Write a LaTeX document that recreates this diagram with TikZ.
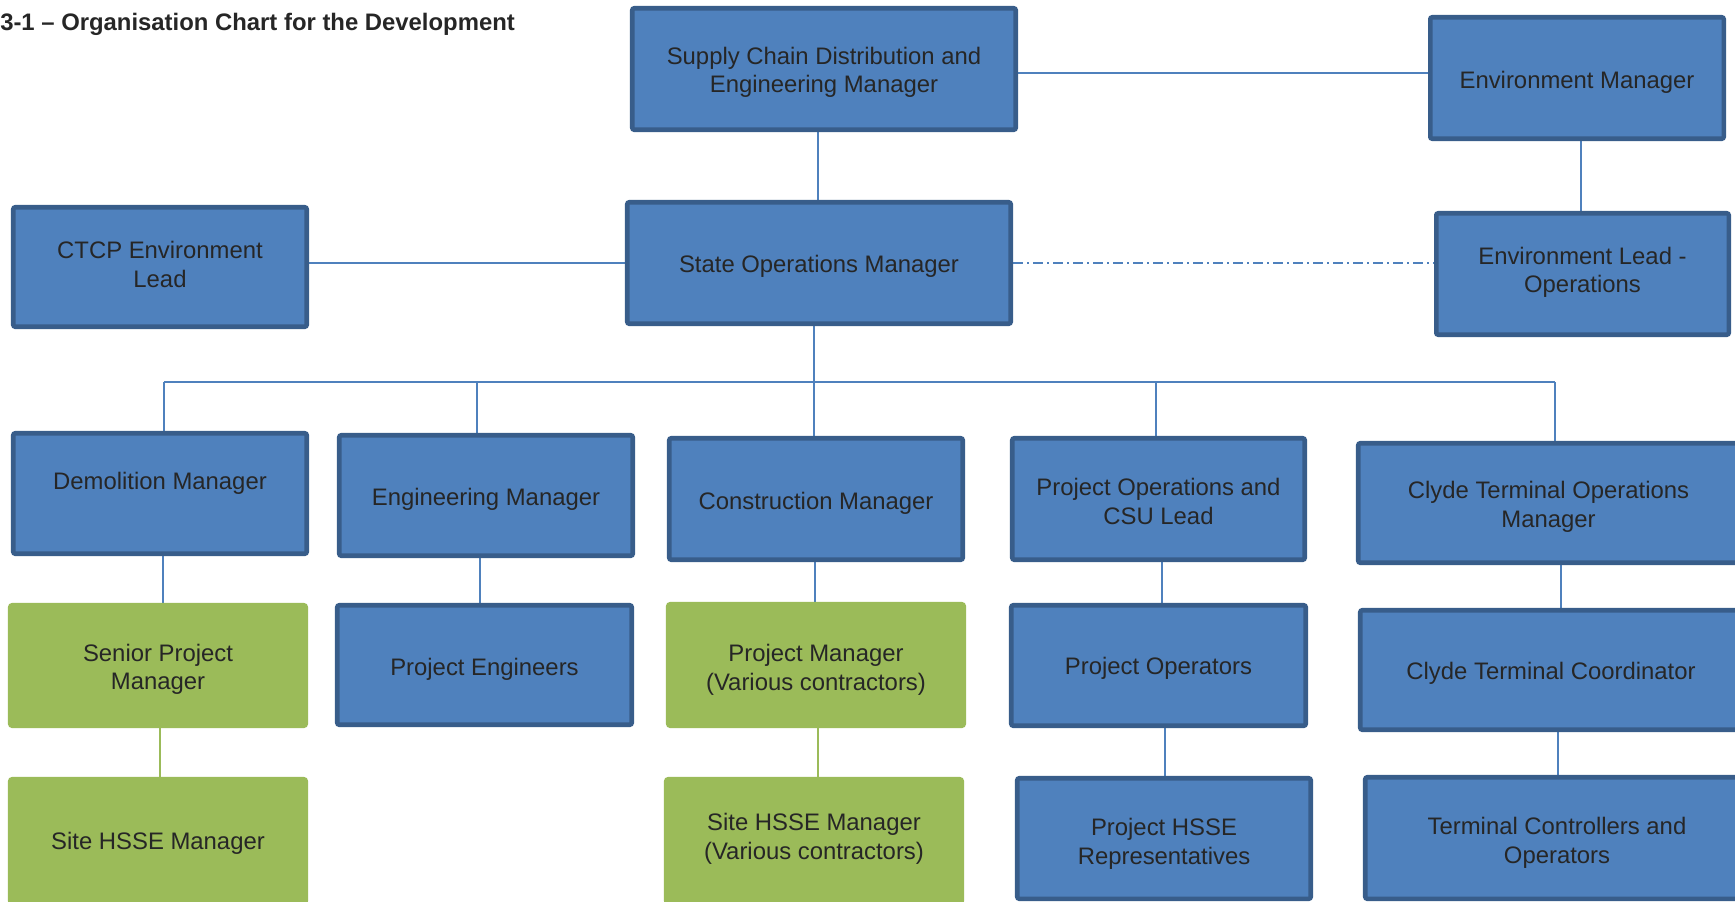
\documentclass[tikz,border=0pt]{standalone}
\usepackage{fontspec}
\setmainfont{Liberation Sans}
\usetikzlibrary{backgrounds}
\definecolor{boxblue}{HTML}{4F81BD}
\definecolor{boxedge}{HTML}{385D8A}
\definecolor{boxgreen}{HTML}{9BBB59}
\definecolor{inktext}{HTML}{262626}
% line strut with the ascent and descent of the face
\newcommand{\lnstrut}{\rule[-0.212em]{0pt}{1.117em}}
% strut for the first line of a two-line label, with optional extra room above
\newcommand{\firstln}[1][0pt]{\rule[-0.212em]{0pt}{\dimexpr1.117em+#1\relax}}
\begin{document}
\begin{tikzpicture}[x=0.75pt,y=-0.75pt,
  sz/.style 2 args={minimum width={(#1-4.5)*0.75pt},minimum height={(#2-4.5)*0.75pt}},
  orgbox/.style={rectangle, rounded corners=1.5pt, line width=3.4pt, inner sep=2pt,
    align=center, text=inktext, font=\fontsize{17.9}{21.6}\selectfont,
    execute at begin node=\lnstrut, execute at end node=\lnstrut},
  % nudge a one-line label down (extra room above) or a label up (extra room below)
  tdown/.style={execute at begin node={\rule[-0.212em]{0pt}{\dimexpr1.117em+#1\relax}}},
  tup/.style={execute at end node={\rule[\dimexpr-0.212em-#1\relax]{0pt}{\dimexpr1.117em+#1\relax}}},
  bluebox/.style={orgbox, fill=boxblue, draw=boxedge},
  greenbox/.style={orgbox, fill=boxgreen, draw=boxgreen},
  conn/.style={draw=boxblue, line width=1.5pt},
  gconn/.style={draw=boxgreen, line width=1.5pt},
  dashdot/.style={conn, dash pattern=on 7.5pt off 3pt on 1.5pt off 3pt},
]
\useasboundingbox (0,0) rectangle (1735,901);

% heading
\node[anchor=base west, inner sep=0pt, text=inktext,
      font=\bfseries\fontsize{17.9}{20}\selectfont] (title) at (0,30)
  {3-1 -- Organisation Chart for the Development};

% top levels
\node[bluebox, sz={388}{126}]              (sup)  at (824,69)    {\firstln[1.9pt]Supply Chain Distribution and\\Engineering Manager};
\node[bluebox, sz={298}{126}, tdown=3.3pt] (envm) at (1577,78)   {Environment Manager};
\node[bluebox, sz={298}{124}]              (ctcp) at (160,267)   {CTCP Environment\\Lead};
\node[bluebox, sz={388}{126}, tdown=1.7pt] (som)  at (819,263)   {State Operations Manager};
\node[bluebox, sz={297}{126}, tup=2.5pt]   (envl) at (1582.5,274) {Environment Lead -\\Operations};

% managers row
\node[bluebox, sz={298}{125}, tup=19pt]    (dem)  at (160,493.5)  {Demolition Manager};
\node[bluebox, sz={298}{125}, tdown=3.3pt] (engm) at (486,495.5)  {Engineering Manager};
\node[bluebox, sz={298}{126}, tdown=3.3pt] (conm) at (816,499)    {Construction Manager};
\node[bluebox, sz={297}{126}]              (poc)  at (1158.5,499) {\firstln[4.4pt]Project Operations and\\CSU Lead};
\node[bluebox, sz={385}{124}]              (ctom) at (1548.5,503) {\firstln[2.7pt]Clyde Terminal Operations\\Manager};

% second row
\node[greenbox, sz={300}{125}]              (spm)  at (158,665.5)  {\firstln[2.7pt]Senior Project\\Manager};
\node[bluebox,  sz={299}{124}, tdown=3.3pt] (peng) at (484.5,665)  {Project Engineers};
\node[greenbox, sz={300}{126}]              (pmvc) at (816,665)    {\firstln[4.4pt]Project Manager\\(Various contractors)};
\node[bluebox,  sz={299}{125}, tdown=1.7pt] (pop)  at (1158.5,665.5) {Project Operators};
\node[bluebox,  sz={386}{124}, tdown=1.7pt] (ctc)  at (1551,670)   {Clyde Terminal Coordinator};

% third row
\node[greenbox, sz={300}{128}]              (shm)  at (158,841)    {Site HSSE Manager};
\node[greenbox, sz={300}{128}, tup=3.3pt]   (shvc) at (814,841)    {Site HSSE Manager\\(Various contractors)};
\node[bluebox,  sz={298}{125}]              (phr)  at (1164,838.5) {\firstln[4.4pt]Project HSSE\\Representatives};
\node[bluebox,  sz={388}{126}]              (tco)  at (1557,838)   {\firstln[3.5pt]Terminal Controllers and\\Operators};

% reporting lines
\begin{scope}[on background layer]
  \coordinate (ytop) at (0,73);
  \coordinate (ymid) at (0,263);
  \coordinate (bus)  at (0,382);
  \coordinate (xsup) at (818,0);
  \coordinate (xenv) at (1581,0);
  \coordinate (xa)  at (164,0);
  \coordinate (xb)  at (477,0);
  \coordinate (xc)  at (814,0);
  \coordinate (xd)  at (1156,0);
  \coordinate (xe)  at (1555,0);
  \coordinate (xa2) at (163,0);
  \coordinate (xa3) at (160,0);
  \coordinate (xb2) at (480,0);
  \coordinate (xc2) at (815,0);
  \coordinate (xc3) at (818,0);
  \coordinate (xd2) at (1162,0);
  \coordinate (xd3) at (1165,0);
  \coordinate (xe2) at (1561,0);
  \coordinate (xe3) at (1558,0);

  \draw[conn] (sup.east |- ytop) -- (envm.west |- ytop);
  \draw[conn] (sup.south -| xsup) -- (som.north -| xsup);
  \draw[conn] (envm.south -| xenv) -- (envl.north -| xenv);
  \draw[conn] (ctcp.east |- ymid) -- (som.west |- ymid);
  \draw[dashdot] (som.east |- ymid) -- (envl.west |- ymid);

  \draw[conn] (xa |- bus) -- (xe |- bus);
  \draw[conn] (som.south -| xc) -- (conm.north -| xc);
  \draw[conn] (xa |- bus) -- (dem.north -| xa);
  \draw[conn] (xb |- bus) -- (engm.north -| xb);
  \draw[conn] (xd |- bus) -- (poc.north -| xd);
  \draw[conn] (xe |- bus) -- (ctom.north -| xe);

  \draw[conn]  (dem.south -| xa2)  -- (spm.north -| xa2);
  \draw[gconn] (spm.south -| xa3)  -- (shm.north -| xa3);
  \draw[conn]  (engm.south -| xb2) -- (peng.north -| xb2);
  \draw[conn]  (conm.south -| xc2) -- (pmvc.north -| xc2);
  \draw[gconn] (pmvc.south -| xc3) -- (shvc.north -| xc3);
  \draw[conn]  (poc.south -| xd2)  -- (pop.north -| xd2);
  \draw[conn]  (pop.south -| xd3)  -- (phr.north -| xd3);
  \draw[conn]  (ctom.south -| xe2) -- (ctc.north -| xe2);
  \draw[conn]  (ctc.south -| xe3)  -- (tco.north -| xe3);
\end{scope}
\end{tikzpicture}
\end{document}
